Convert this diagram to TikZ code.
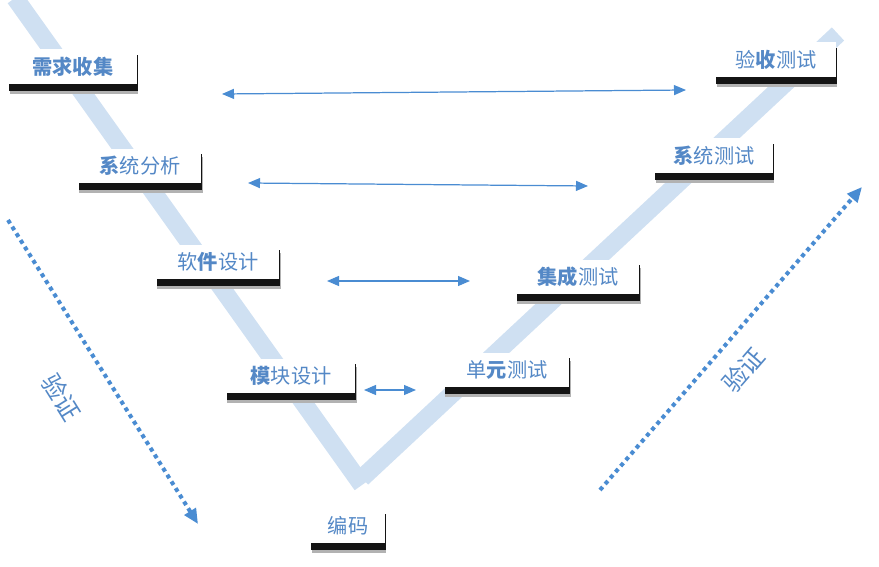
\documentclass[tikz,border=0pt]{standalone}
\usepackage{fontspec}
\setmainfont{Noto Sans CJK SC}
\usetikzlibrary{positioning, arrows.meta}

\definecolor{vtext}{RGB}{84,136,198}
\definecolor{varrow}{RGB}{74,140,210}
\definecolor{vband}{RGB}{207,224,242}

\pgfdeclarelayer{bg}
\pgfdeclarelayer{shade}
\pgfsetlayers{bg,shade,main}

\begin{document}
\begin{tikzpicture}[
    x=0.02cm, y=-0.02cm,
    stage/.style={rectangle, fill=white, minimum width=2.45cm, minimum height=0.7cm, align=center, text=vtext, font=\fontsize{11.5}{13}\selectfont},
    band/.style={line width=0.36cm, vband},
    link/.style={{Triangle[length=0.24cm, width=0.2cm]}-{Triangle[length=0.24cm, width=0.2cm]}, varrow, line width=0.7pt},
    check/.style={-{Triangle[length=0.3cm, width=0.26cm]}, varrow, line width=2.3pt, dash pattern=on 2.3pt off 2.2pt},
    checklabel/.style={text=vtext, font=\fontsize{14}{16}\selectfont}
  ]
    \useasboundingbox (0,0) rectangle (879,567);

    % Left branch: development
    \node[stage, minimum width=2.56cm] (req) at (73,67) {\textbf{需求收集}};
    \node[stage] (ana) at (140,166) {\textbf{系}统分析};
    \node[stage] (sw) at (218,262) {软\textbf{件}设计};
    \node[stage, minimum width=2.58cm] (mod) at (291,376) {\textbf{模}块设计};
    \node[stage, minimum width=1.48cm] (code) at (348,526) {编码};

    % Right branch: testing
    \node[stage, minimum width=2.5cm] (unit) at (507,370) {单\textbf{元}测试};
    \node[stage] (integ) at (578,277) {\textbf{集成}测试};
    \node[stage, minimum width=2.36cm] (sys) at (714,156) {\textbf{系}统测试};
    \node[stage, minimum width=2.4cm] (acc) at (776,60) {验\textbf{收}测试};

    % Shadows under the boxes
    \begin{pgfonlayer}{shade}
      \foreach \n in {req,ana,sw,mod,code,unit,integ,sys,acc} {
        \fill[black!30] ([xshift=0.6pt, yshift=-5pt]\n.south west) rectangle ([xshift=0.6pt, yshift=-5pt]\n.north east);
        \fill[black!92] ([xshift=0.3pt, yshift=-3.6pt]\n.south west) rectangle ([xshift=0.3pt, yshift=-3.6pt]\n.north east);
      }
    \end{pgfonlayer}

    % The V in the background
    \begin{pgfonlayer}{bg}
      \draw[band] (15,-2) -- (362,485);
      \draw[band] (362,478) -- (838,34);
    \end{pgfonlayer}

    % Correspondence arrows
    \coordinate (req-r) at (222,94);
    \coordinate (acc-l) at (686,90);
    \coordinate (ana-r) at (248,183);
    \coordinate (sys-l) at (588,186);
    \coordinate (sw-r) at (327,281);
    \coordinate (integ-l) at (470,281);
    \coordinate (mod-r) at (364,390);
    \coordinate (unit-l) at (416,390);
    \draw[link] (req-r) -- (acc-l);
    \draw[link] (ana-r) -- (sys-l);
    \draw[link] (sw-r) -- (integ-l);
    \draw[link] (mod-r) -- (unit-l);

    % Verification arrows
    \coordinate (down-a) at (8,220);
    \coordinate (down-b) at (198,524);
    \coordinate (up-a) at (600,490);
    \coordinate (up-b) at (862,187);
    \draw[check] (down-a) -- (down-b);
    \draw[check] (up-a) -- (up-b);
    \node[checklabel, rotate=-58] (verify-l) at (62,397) {验证};
    \node[checklabel, rotate=49] (verify-r) at (743,370) {验证};
  \end{tikzpicture}
\end{document}
